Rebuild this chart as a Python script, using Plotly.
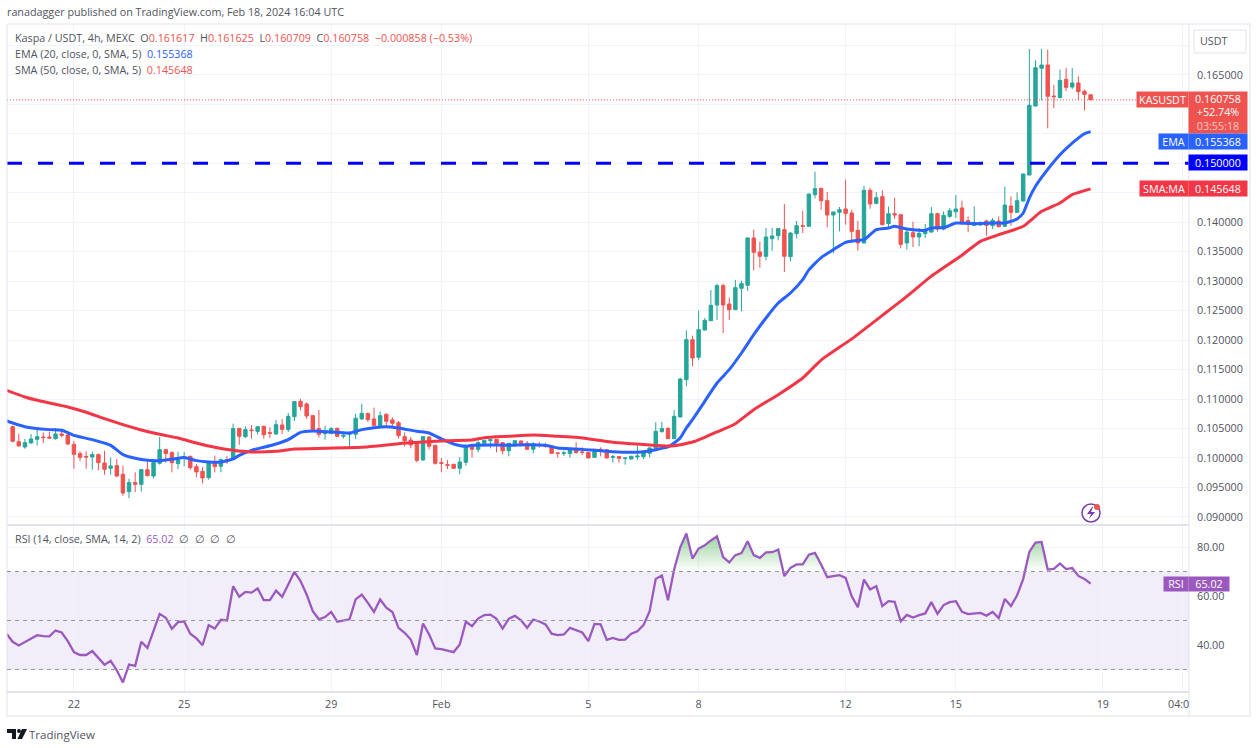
import pandas as pd
import plotly.graph_objects as go
from plotly.subplots import make_subplots

# 4h candles, Jan 20 08:00 to Feb 18 16:00. One extra slot in front for the lines that run off the left edge
times = pd.date_range("2024-01-20 04:00", periods=178, freq="4h")
candle_times = times[1:]

open_ = [
    .10531, .10277, .10187, .10254, .10317, .10356, .10356, .10328, .10407, .10390,
    .10232, .10074, .10023, .10017, .10057, .09915, .09825, .09870, .09723, .09429,
    .09582, .09553, .09802, .09695, .09910, .10141, .10090, .09904, .10000, .10028,
    .09853, .09774, .09666, .09915, .09859, .09975, .09972, .10503, .10362, .10475,
    .10452, .10537, .10430, .10407, .10560, .10481, .10701, .10961, .10916, .10718,
    .10498, .10413, .10418, .10503, .10368, .10401, .10401, .10662, .10752, .10662,
    .10548, .10741, .10645, .10599, .10362, .10305, .10243, .09966, .10356, .10215,
    .09921, .09887, .09893, .09825, .09926, .10209, .10147, .10249, .10294, .10317,
    .10260, .10124, .10232, .10288, .10249, .10147, .10226, .10221, .10198, .10085,
    .10079, .10074, .10141, .10102, .10096, .10011, .10147, .10141, .10011, .10023,
    .09994, .09983, .10017, .10023, .10079, .10164, .10447, .10503, .10328, .10695,
    .11329, .12007, .11708, .12171, .12329, .12595, .12923, .12612, .12516, .12878,
    .12929, .13732, .13494, .13421, .13720, .13771, .13873, .13415, .13805, .13941,
    .13930, .14467, .14574, .14365, .14122, .14167, .14224, .14156, .13862, .13647,
    .14540, .14320, .14433, .13975, .14144, .14127, .13647, .13822, .13749, .13805,
    .13833, .14144, .13884, .14099, .14178, .14241, .14026, .13946, .13952, .14020,
    .13941, .14020, .13930, .14274, .14167, .14359, .14800, .15971, .16610, .16666,
    .16140, .16112, .16423, .16293, .16361, .16220, .161617,
]
high = [
    .10548, .10413, .10322, .10407, .10492, .10435, .10447, .10509, .10492, .10452,
    .10288, .10113, .10113, .10107, .10074, .10124, .10006, .09983, .09870, .09649,
    .09757, .09813, .09983, .09972, .10356, .10150, .10113, .10107, .10102, .10040,
    .09898, .09847, .09921, .10040, .09989, .10028, .10582, .10509, .10537, .10560,
    .10537, .10548, .10520, .10645, .10662, .10763, .10961, .11001, .10944, .10724,
    .10814, .10548, .10526, .10514, .10413, .10452, .10746, .10922, .10775, .10854,
    .10792, .10758, .10690, .10628, .10435, .10356, .10254, .10365, .10368, .10220,
    .10000, .09966, .09898, .10017, .10226, .10226, .10294, .10305, .10322, .10322,
    .10271, .10254, .10300, .10300, .10288, .10266, .10271, .10249, .10209, .10090,
    .10124, .10153, .10266, .10181, .10107, .10150, .10181, .10147, .10051, .10025,
    .10006, .10040, .10215, .10130, .10175, .10605, .10611, .10520, .10814, .11357,
    .12165, .12075, .12499, .12375, .12850, .12957, .12957, .12720, .13019, .13008,
    .13740, .13873, .13669, .13901, .13901, .13901, .14308, .13830, .14020, .14195,
    .14484, .14857, .14580, .14512, .14180, .14257, .14721, .14212, .14026, .14619,
    .14580, .14512, .14540, .14263, .14416, .14135, .13873, .14009, .13901, .13969,
    .14257, .14161, .14184, .14241, .14461, .14365, .14099, .14269, .14014, .14043,
    .14071, .14099, .14602, .14438, .14506, .14825, .16937, .16745, .16937, .16926,
    .16332, .16587, .16615, .16615, .16474, .16248, .161625,
]
low = [
    .10266, .10198, .10158, .10243, .10209, .10254, .10322, .10311, .10351, .10221,
    .09819, .09943, .09819, .09802, .09791, .09717, .09717, .09672, .09361, .09316,
    .09420, .09429, .09689, .09649, .09887, .09921, .09757, .09813, .09859, .09802,
    .09672, .09570, .09632, .09757, .09757, .09900, .09965, .10221, .10339, .10328,
    .10396, .10328, .10339, .10396, .10407, .10441, .10622, .10809, .10662, .10452,
    .10345, .10311, .10401, .10356, .10328, .10153, .10322, .10650, .10611, .10537,
    .10526, .10509, .10514, .10328, .10198, .10164, .09926, .09955, .10147, .09887,
    .09757, .09813, .09819, .09729, .09870, .10006, .10096, .10232, .10164, .10096,
    .10062, .10028, .10221, .10215, .10141, .10079, .10175, .10175, .10074, .10006,
    .10034, .10006, .10074, .10051, .09994, .10000, .10028, .09994, .09921, .09921,
    .09887, .09977, .09966, .09983, .10011, .10153, .10430, .10322, .10322, .10690,
    .11216, .11555, .11657, .12165, .12324, .12341, .12120, .12341, .12510, .12488,
    .12833, .13183, .13228, .13353, .13517, .13692, .13155, .13336, .13726, .13816,
    .13925, .14404, .14212, .13913, .13472, .13845, .13958, .13647, .13517, .13640,
    .14229, .14303, .13946, .13913, .14054, .13556, .13534, .13579, .13590, .13732,
    .13822, .13839, .13862, .14071, .14071, .13958, .13828, .13940, .13935, .13771,
    .13884, .13913, .13920, .13941, .14156, .14350, .14795, .15965, .16067, .15592,
    .15931, .16106, .16225, .16259, .16067, .15897, .160709,
]
close = [
    .10283, .10204, .10260, .10322, .10362, .10345, .10339, .10407, .10384, .10237,
    .10062, .10011, .10017, .10057, .09921, .09808, .09864, .09695, .09406, .09582,
    .09553, .09802, .09700, .09926, .10141, .10074, .09921, .10006, .10017, .09836,
    .09763, .09661, .09915, .09853, .09972, .09960, .10498, .10368, .10481, .10464,
    .10531, .10396, .10418, .10565, .10486, .10707, .10956, .10871, .10712, .10481,
    .10401, .10424, .10498, .10368, .10384, .10413, .10673, .10758, .10650, .10554,
    .10718, .10622, .10588, .10379, .10294, .10221, .09960, .10362, .10198, .09910,
    .09910, .09876, .09825, .09932, .10215, .10147, .10260, .10300, .10311, .10249,
    .10124, .10249, .10294, .10226, .10147, .10243, .10221, .10198, .10079, .10079,
    .10085, .10136, .10090, .10096, .10000, .10147, .10130, .10000, .10023, .09994,
    .10000, .10028, .10034, .10085, .10170, .10452, .10498, .10328, .10707, .11340,
    .12007, .11696, .12177, .12335, .12590, .12923, .12595, .12516, .12889, .12957,
    .13732, .13489, .13421, .13749, .13766, .13890, .13421, .13816, .13941, .13930,
    .14478, .14568, .14365, .14122, .14173, .14212, .14150, .13845, .13647, .14540,
    .14308, .14416, .13958, .14144, .14122, .13624, .13833, .13749, .13811, .13850,
    .14144, .13884, .14116, .14195, .14224, .14003, .13963, .13997, .13986, .13946,
    .14031, .13924, .14291, .14167, .14365, .14817, .15982, .16621, .16666, .16135,
    .16129, .16406, .16287, .16361, .16214, .16168, .160758,
]

# moving averages, slot number and price
ema_slots = [0, 3, 7, 9, 11, 14, 17, 19, 21, 23, 25, 27, 29, 31, 33, 35, 37, 38, 40, 42, 44, 46, 48, 50,
             53, 56, 58, 60, 62, 64, 67, 69, 71, 73, 75, 76, 79, 82, 85, 88, 90, 93, 96, 99, 102, 104, 106,
             108, 109, 110, 111, 112, 114, 116, 118, 120, 122, 124, 126, 128, 130, 131, 133, 135, 137, 139,
             140, 142, 144, 145, 147, 149, 150, 151, 153, 155, 158, 161, 163, 165, 166, 167, 168, 169, 172,
             174, 176, 177]
ema_vals = [.10628, .10531, .10481, .10469, .10384, .10311, .10215, .10057, .09994, .09960, .09955, .09977,
            .10006, .09955, .09932, .09932, .09983, .10045, .10130, .10181, .10237, .10311, .10435, .10458,
            .10441, .10424, .10481, .10514, .10531, .10509, .10452, .10424, .10322, .10237, .10198, .10215,
            .10221, .10215, .10226, .10215, .10170, .10153, .10130, .10107, .10096, .10107, .10141, .10187,
            .10254, .10339, .10509, .10650, .10961, .11272, .11498, .11781, .12092, .12375, .12629, .12799,
            .13025, .13190, .13400, .13534, .13658, .13692, .13703, .13873, .13901, .13930, .13884, .13862,
            .13862, .13901, .13907, .13986, .13975, .13986, .13986, .14054, .14156, .14410, .14608, .14761,
            .15145, .15343, .15501, .155368]
sma_slots = [0, 3, 5, 7, 10, 13, 16, 19, 22, 25, 28, 31, 34, 37, 40, 44, 47, 52, 58, 60, 64, 68, 72, 76,
             78, 82, 86, 90, 93, 96, 99, 102, 105, 108, 109, 112, 114, 116, 119, 122, 126, 130, 133, 138,
             143, 147, 151, 156, 159, 162, 166, 169, 172, 174, 177]
sma_vals = [.11148, .11035, .10978, .10933, .10865, .10775, .10667, .10565, .10475, .10401, .10339, .10254,
            .10181, .10130, .10102, .10113, .10153, .10164, .10181, .10198, .10243, .10271, .10294, .10305,
            .10345, .10368, .10390, .10368, .10351, .10311, .10266, .10243, .10221, .10204, .10209, .10271,
            .10351, .10441, .10582, .10820, .11074, .11357, .11660, .12020, .12420, .12742, .13085, .13440,
            .13675, .13788, .13930, .14184, .14325, .14467, .145648]

rsi_vals = [
    44.6, 41.3, 39.8, 41.2, 42.7, 44.0, 43.6, 43.5, 45.9, 45.1, 41.6, 37.1, 35.9, 35.9, 37.5, 34.5, 31.9, 33.5,
    29.7, 24.7, 32.0, 31.5, 41.3, 38.8, 45.6, 52.7, 51.1, 46.6, 49.3, 49.6, 44.6, 42.7, 39.9, 48.1, 46.7, 50.3,
    50.0, 64.0, 59.7, 61.7, 61.4, 63.1, 58.3, 58.3, 62.2, 59.7, 64.7, 69.9, 66.1, 60.6, 53.8, 50.5, 51.4, 53.5,
    49.5, 50.1, 50.5, 58.6, 60.6, 57.2, 53.5, 58.6, 55.2, 53.5, 47.0, 45.0, 42.2, 35.9, 48.8, 44.3, 38.6, 38.3,
    37.8, 37.1, 40.2, 49.5, 47.7, 50.8, 52.2, 52.4, 50.7, 46.7, 50.7, 51.9, 50.1, 47.0, 50.4, 49.6, 48.4, 44.6,
    44.0, 44.3, 47.0, 45.9, 45.1, 41.6, 48.6, 48.4, 42.1, 42.9, 42.1, 42.2, 44.6, 45.6, 48.1, 53.8, 67.0, 68.4,
    58.3, 70.8, 79.9, 85.5, 75.3, 79.4, 80.7, 82.7, 84.4, 75.9, 73.7, 76.7, 77.5, 82.4, 76.7, 75.6, 77.8, 77.9,
    79.0, 68.1, 71.5, 72.9, 72.9, 76.9, 77.6, 72.9, 67.7, 68.1, 68.5, 67.4, 59.9, 55.4, 66.7, 62.7, 64.0, 55.9,
    57.9, 57.6, 49.7, 52.3, 51.2, 52.2, 52.9, 57.5, 52.7, 56.3, 57.5, 57.9, 53.5, 52.6, 52.9, 53.1, 52.0, 53.5,
    51.0, 58.8, 55.9, 60.3, 67.0, 78.0, 81.8, 82.1, 70.8, 71.1, 73.3, 71.0, 71.4, 68.2, 67.0, 65.02,
]

price_ticks = [round(.09 + .005 * n, 3) for n in range(17)]
price_labels = ["" if p in (.145, .15, .155, .16, .17) else f"{p:.6f}" for p in price_ticks]
rsi_ticks = [40, 60, 80]
rsi_labels = ["40.00", "60.00", "80.00"]
day_ticks = ["2024-01-22", "2024-01-25", "2024-01-29", "2024-02-01", "2024-02-05", "2024-02-08",
             "2024-02-12", "2024-02-15", "2024-02-19", "2024-02-21 04:00"]
day_labels = ["22", "25", "29", "Feb", "5", "8", "12", "15", "19", ""]

GREEN = "#26a69a"
RED = "#ef5350"
BLUE = "#2962ff"
SMA_RED = "#f23645"
PURPLE = "#9b59c0"
GRID = "#f0f3fa"
EDGE = "#e0e3eb"
TEXT = "#50535e"
FONT = "Open Sans"
FONT_SIZE = 10.75


# page pixels to paper fractions, the plot area runs 7..1189 and 24..692
def px(x):
    return (x - 7) / 1182


def py(y):
    return (692 - y) / 668


fig = make_subplots(rows=2, cols=1, shared_xaxes=True, vertical_spacing=0, row_heights=[0.75, 0.25])

fig.add_trace(go.Candlestick(
    x=candle_times, open=open_, high=high, low=low, close=close,
    increasing=dict(line=dict(color=GREEN, width=1), fillcolor=GREEN),
    decreasing=dict(line=dict(color=RED, width=1), fillcolor=RED),
    whiskerwidth=0,
), row=1, col=1)
fig.add_trace(go.Scatter(x=times[ema_slots], y=ema_vals, mode="lines",
                         line=dict(color=BLUE, width=3, shape="spline", smoothing=0.5)), row=1, col=1)
fig.add_trace(go.Scatter(x=times[sma_slots], y=sma_vals, mode="lines",
                         line=dict(color=SMA_RED, width=3, shape="spline", smoothing=0.5)), row=1, col=1)

# green gradient where the RSI is over 70
fig.add_trace(go.Scatter(x=times, y=[70] * len(times), mode="lines", line=dict(width=0)), row=2, col=1)
fig.add_trace(go.Scatter(
    x=times, y=[max(v, 70) for v in rsi_vals], mode="lines", line=dict(width=0), fill="tonexty",
    fillgradient=dict(type="vertical", colorscale=[[0, "rgba(76,175,80,0)"], [1, "rgba(76,175,80,0.6)"]], start=70, stop=86),
), row=2, col=1)
fig.add_trace(go.Scatter(x=times, y=rsi_vals, mode="lines", line=dict(color=PURPLE, width=2.3)), row=2, col=1)

shapes = [
    dict(type="rect", xref="x2 domain", yref="y2", x0=0, x1=1, y0=30, y1=70,
         fillcolor="rgba(126,87,194,0.1)", line_width=0, layer="below"),
    dict(type="line", xref="x domain", yref="y", x0=0, x1=1, y0=.160758, y1=.160758,
         line=dict(color=RED, width=1, dash="1px,2px")),
    dict(type="line", xref="x domain", yref="y", x0=0, x1=1, y0=.15, y1=.15,
         line=dict(color="#0000ff", width=3, dash="15px,16px")),
    # outer frame and pane separators
    dict(type="rect", xref="paper", yref="paper", x0=0, x1=px(1250), y0=py(716), y1=1, line=dict(color=EDGE, width=1)),
    dict(type="line", xref="paper", yref="paper", x0=0, x1=1, y0=0, y1=0, line=dict(color=EDGE, width=2)),
    dict(type="line", xref="paper", yref="paper", x0=0, x1=1, y0=py(525), y1=py(525), line=dict(color=EDGE, width=2)),
    dict(type="line", xref="paper", yref="paper", x0=1, x1=1, y0=py(716), y1=1, line=dict(color=EDGE, width=1)),
    # USDT button
    dict(type="rect", xref="paper", yref="paper", x0=px(1194), x1=px(1246), y0=py(53), y1=py(30),
         line=dict(color=EDGE, width=1), fillcolor="white"),
    # lightning badge
    dict(type="circle", xref="paper", yref="paper", x0=px(1082), x1=px(1100), y0=py(522), y1=py(504),
         line=dict(color="#7b3fa8", width=1.5), fillcolor="white"),
    dict(type="circle", xref="paper", yref="paper", x0=px(1094), x1=px(1100), y0=py(510), y1=py(504),
         line_width=0, fillcolor=RED),
]
for lvl in (70, 50, 30):
    shapes.append(dict(type="line", xref="x2 domain", yref="y2", x0=0, x1=1, y0=lvl, y1=lvl,
                       line=dict(color="#9598a1", width=1, dash="4px,4px")))

# TradingView logo and the bolt of the badge
logo_t = [(7, 729), (16, 729), (16, 739), (12, 739), (12, 733), (7, 733)]
logo_v = [(27, 729), (22, 739), (17.5, 739), (22, 729)]
bolt = [(1092, 507), (1087, 514), (1091, 514), (1089, 519), (1095, 512), (1091, 512), (1093, 507)]
for poly, colour in ((logo_t, "#131722"), (logo_v, "#131722"), (bolt, "#7b3fa8")):
    path = "M" + " L".join(f"{px(a):.5f},{py(b):.5f}" for a, b in poly) + " Z"
    shapes.append(dict(type="path", xref="paper", yref="paper", path=path, fillcolor=colour, line_width=0))
shapes.append(dict(type="circle", xref="paper", yref="paper", x0=px(17), x1=px(21), y0=py(733), y1=py(729),
                   fillcolor="#131722", line_width=0))


def note(text, x, y, size=FONT_SIZE, color=TEXT, xanchor="left", **kw):
    return dict(text=text, x=px(x), y=py(y), xref="paper", yref="paper", xanchor=xanchor, yanchor="middle",
                showarrow=False, font=dict(family=FONT, size=size, color=color), align="left", **kw)


def tag(text, x0, x1, y, color, height=15):
    return dict(text=text, x=px((x0 + x1) / 2), y=py(y), xref="paper", yref="paper", xanchor="center",
                yanchor="middle", showarrow=False, bgcolor=color, width=x1 - x0, height=height, borderpad=0,
                font=dict(family=FONT, size=FONT_SIZE, color="white"), align="center")


def red(s):
    return f'<span style="color:{RED}">{s}</span>'


annotations = [
    note("ranadagger published on TradingView.com, Feb 18, 2024 16:04 UTC", 5, 12),
    note("Kaspa / USDT, 4h, MEXC  O" + red("0.161617") + "  H" + red("0.161625") + "  L" + red("0.160709")
         + "  C" + red("0.160758") + "  " + red("−0.000858 (−0.53%)"), 13, 38),
    note(f'EMA (20, close, 0, SMA, 5)  <span style="color:{BLUE}">0.155368</span>', 13, 54),
    note("SMA (50, close, 0, SMA, 5)  " + red("0.145648"), 13, 70),
    note(f'RSI (14, close, SMA, 14, 2)  <span style="color:{PURPLE}">65.02</span>  ∅  ∅  ∅  ∅', 13, 539),
    note("USDT", 1214, 41, xanchor="center"),
    note("TradingView", 27, 734, size=11.5),
    note("04:0", 1178, 704, xanchor="center"),
    tag("KASUSDT", 1137, 1188, 99.5, RED),
    tag("0.160758<br>+52.74%<br><span style='color:#fbc9c8'>03:55:18</span>", 1189, 1247, 112, RED, height=41),
    tag("EMA", 1159, 1188, 141.5, BLUE),
    tag("0.155368", 1189, 1247, 141.5, BLUE),
    tag("0.150000", 1189, 1247, 162.5, "#0000ff"),
    tag("SMA:MA", 1140, 1188, 188.5, SMA_RED),
    tag("0.145648", 1189, 1247, 188.5, SMA_RED),
    tag("RSI", 1164, 1188, 584, PURPLE, height=14),
    tag("65.02", 1189, 1229, 584, PURPLE, height=14),
]

fig.update_layout(
    width=1256, height=748, margin=dict(l=7, r=67, t=24, b=56),
    paper_bgcolor="white", plot_bgcolor="white", showlegend=False,
    font=dict(family=FONT, size=FONT_SIZE, color=TEXT),
    shapes=shapes, annotations=annotations, boxgap=0.2,
)
x_range = ["2024-01-20 04:18", "2024-02-21 08:16"]
fig.update_xaxes(range=x_range, tickvals=day_ticks, ticktext=day_labels, showgrid=True, gridcolor=GRID, gridwidth=1,
                 ticks="", showline=False, zeroline=False, rangeslider_visible=False, ticklabelstandoff=4)
fig.update_yaxes(side="right", showgrid=True, gridcolor=GRID, gridwidth=1, ticks="", showline=False,
                 zeroline=False, ticklabelstandoff=7)
fig.update_yaxes(range=[.08863, .17362], tickvals=price_ticks, ticktext=price_labels, row=1, col=1)
fig.update_yaxes(range=[20.8, 89.0], tickvals=rsi_ticks, ticktext=rsi_labels, row=2, col=1)

fig.write_html("out.html", config=dict(displayModeBar=False), post_script="document.body.style.margin='0';")
